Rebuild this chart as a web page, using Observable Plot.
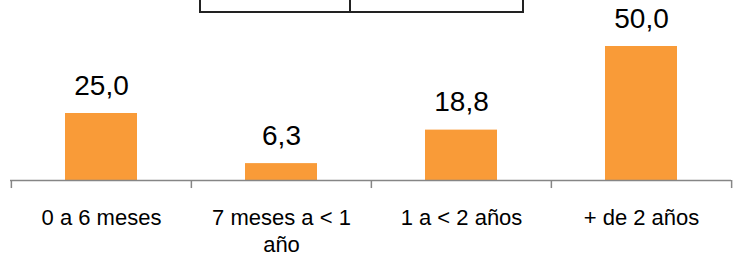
<!DOCTYPE html>
<html>
<head>
<meta charset="utf-8">
<script src="https://cdn.jsdelivr.net/npm/d3@7"></script>
<script src="https://cdn.jsdelivr.net/npm/@observablehq/plot@0.6"></script>
<style>
  html, body { margin: 0; padding: 0; background: #fff; }
  #wrap { position: relative; width: 740px; height: 260px; overflow: hidden; }
  #box { position: absolute; left: 199px; top: -4px; width: 148px; height: 13px;
         border: 2px solid #222; border-right: none; }
  #box2 { position: absolute; left: 349px; top: -4px; width: 171px; height: 13px;
          border: 2px solid #222; }
</style>
</head>
<body>
<div id="wrap"><div id="chart"></div><div id="box"></div><div id="box2"></div></div>
<script>
const categories = ["0 a 6 meses", "7 meses a < 1 año", "1 a < 2 años", "+ de 2 años"];
const tickLabels = ["0 a 6 meses", "7 meses a < 1\naño", "1 a < 2 años", "+ de 2 años"];
const values = [25.0, 6.3, 18.8, 50.0];

const data = categories.map((c, i) => ({cat: c, value: values[i], label: tickLabels[i]}));
const fmt = v => v.toFixed(1).replace(".", ",");
const width = 740, mL = 10, mR = 9;
const step = (width - mL - mR) / categories.length;
const axisColor = "#868686";

const chart = Plot.plot({
  width, height: 260,
  marginLeft: mL, marginRight: mR, marginTop: 46, marginBottom: 80,
  style: {fontFamily: "Liberation Sans, Arial, sans-serif", background: "#fff"},
  x: {domain: categories, paddingInner: 0.6, paddingOuter: 0.3, axis: null},
  y: {domain: [0, 50], axis: null},
  marks: [
    Plot.barY(data, {x: "cat", y: "value", fill: "#F99B38"}),
    Plot.ruleY([0], {stroke: axisColor, strokeWidth: 1.5}),
    Plot.ruleX(data, {x: "cat", dx: -step / 2, y1: 0, y2: -3, stroke: axisColor, strokeWidth: 1.5}),
    Plot.ruleX(data.slice(-1), {x: "cat", dx: step / 2, y1: 0, y2: -3, stroke: axisColor, strokeWidth: 1.5}),
    Plot.text(data, {x: "cat", y: "value", text: d => fmt(d.value), dy: -19, lineAnchor: "bottom",
      fontSize: 28, fill: "#000"}),
    Plot.text(data, {x: "cat", text: "label", frameAnchor: "bottom", dy: 25, lineAnchor: "top",
      fontSize: 22, lineHeight: 1.23, fill: "#000"})
  ]
});
document.getElementById("chart").appendChild(chart);
</script>
</body>
</html>
